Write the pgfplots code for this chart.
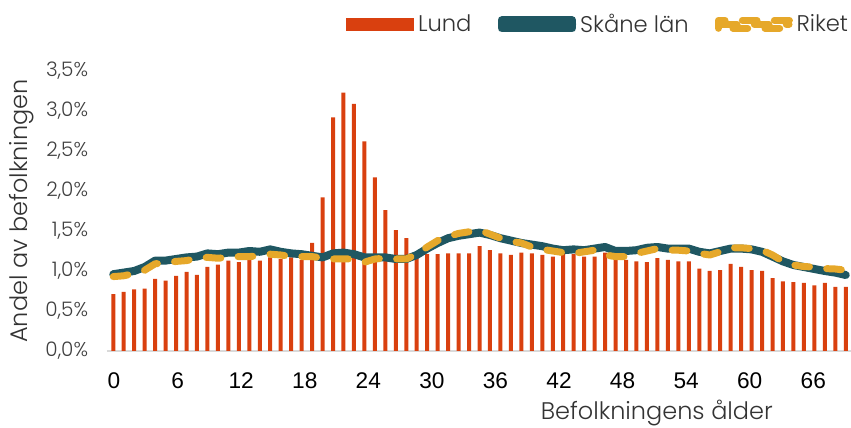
\documentclass[border=0pt]{standalone}
\usepackage{pgfplots}
\pgfplotsset{compat=1.18}
\usepackage{fontspec}
\setmainfont{Liberation Sans}
\newfontfamily\legfont{Poppins Light}
\newfontfamily\tickfont{Liberation Sans}
\definecolor{lundc}{HTML}{D9400F}
\definecolor{skc}{HTML}{1F5762}
\definecolor{rkc}{HTML}{E6A82A}
\definecolor{txtc}{HTML}{333333}
\definecolor{ytc}{HTML}{404040}
\definecolor{axc}{HTML}{D9D9D9}
\pgfplotsset{
  lineleg/.style={legend image code/.code={\useasboundingbox (-3pt,-3pt) rectangle (50pt,3pt);\draw[##1] (0pt,0pt) -- (50pt,0pt);}},
  barleg/.style={legend image code/.code={\fill[lundc] (0pt,-4.9pt) rectangle (51pt,4.9pt);}},
}
\begin{document}
\begin{tikzpicture}
\path[use as bounding box] (0pt,0pt) rectangle (638.25pt,321pt);
\begin{axis}[
  at={(80.25pt,57.75pt)}, anchor=south west,
  scale only axis, width=558pt, height=210pt,
  xmin=-0.6, xmax=70.5, ymin=0, ymax=3.5,
  clip=false,
  axis x line*=bottom, axis y line*=left,
  x axis line style={draw=axc, line width=1.5pt, -},
  y axis line style={draw=none},
  major tick length=0pt,
  xtick={0.07,6.15,12.22,18.30,24.37,30.45,36.52,42.60,48.67,54.75,60.82,66.9},
  xticklabels={0,6,12,18,24,30,36,42,48,54,60,66},
  xticklabel style={font=\tickfont\fontsize{17}{17}\selectfont, text=black, anchor=north, inner sep=0pt, yshift=-16pt},
  ytick={0,0.5,1,1.5,2,2.5,3,3.5},
  yticklabels={0{,}0\%,0{,}5\%,1{,}0\%,1{,}5\%,2{,}0\%,2{,}5\%,3{,}0\%,3{,}5\%},
  yticklabel style={font=\legfont\fontsize{15}{15}\selectfont, text=ytc, anchor=east, inner sep=0pt, xshift=-14pt},
  ylabel={Andel av befolkningen},
  ylabel style={font=\legfont\fontsize{18}{18}\selectfont, text=txtc, at={(rel axis cs:0,0.5)}, anchor=center, rotate=0, yshift=63.75pt},
  xlabel={Befolkningens ålder},
  xlabel style={font=\legfont\fontsize{18}{18}\selectfont, text=txtc, at={(rel axis cs:0.739,0)}, anchor=center, yshift=-46.5pt},
  legend columns=3,
  legend style={at={(1,1)}, anchor=east, xshift=1pt, yshift=35pt, draw=none, fill=none, inner sep=0pt,
    font=\legfont\fontsize{17}{17}\selectfont, text=txtc,
    nodes={inner sep=3pt},
    /tikz/every even column/.append style={column sep=16.5pt}},
]
\addplot[ybar, bar width=3pt, fill=lundc, draw=none, barleg]
coordinates {
(0,0.71)(1,0.74)(2,0.77)(3,0.78)(4,0.90)(5,0.88)(6,0.94)(7,0.99)(8,0.95)(9,1.05)
(10,1.08)(11,1.13)(12,1.11)(13,1.14)(14,1.13)(15,1.17)(16,1.15)(17,1.17)(18,1.14)(19,1.35)
(20,1.92)(21,2.92)(22,3.23)(23,3.09)(24,2.62)(25,2.17)(26,1.76)(27,1.51)(28,1.41)(29,1.17)
(30,1.21)(31,1.21)(32,1.22)(33,1.22)(34,1.22)(35,1.31)(36,1.26)(37,1.22)(38,1.20)(39,1.23)
(40,1.22)(41,1.20)(42,1.18)(43,1.22)(44,1.21)(45,1.18)(46,1.18)(47,1.23)(48,1.14)(49,1.14)
(50,1.12)(51,1.11)(52,1.16)(53,1.14)(54,1.12)(55,1.12)(56,1.03)(57,1.00)(58,1.01)(59,1.09)
(60,1.05)(61,1.01)(62,1.00)(63,0.91)(64,0.87)(65,0.86)(66,0.85)(67,0.82)(68,0.85)(69,0.80)
(70,0.80)};
\addlegendentry{Lund}
\addplot[skc, line width=6pt, line join=round, line cap=round, lineleg]
coordinates {
(0,0.96)(1,0.98)(2,1.00)(3,1.05)(4,1.13)(5,1.13)(6,1.15)(7,1.17)(8,1.18)(9,1.22)
(10,1.21)(11,1.23)(12,1.23)(13,1.25)(14,1.24)(15,1.27)(16,1.24)(17,1.22)(18,1.21)(19,1.19)
(20,1.17)(21,1.22)(22,1.23)(23,1.21)(24,1.17)(25,1.17)(26,1.17)(27,1.15)(28,1.15)(29,1.20)
(30,1.28)(31,1.35)(32,1.41)(33,1.44)(34,1.46)(35,1.48)(36,1.45)(37,1.41)(38,1.38)(39,1.35)
(40,1.33)(41,1.31)(42,1.28)(43,1.26)(44,1.27)(45,1.26)(46,1.28)(47,1.30)(48,1.25)(49,1.25)
(50,1.26)(51,1.29)(52,1.30)(53,1.28)(54,1.28)(55,1.28)(56,1.24)(57,1.22)(58,1.25)(59,1.28)
(60,1.28)(61,1.27)(62,1.24)(63,1.18)(64,1.12)(65,1.075)(66,1.05)(67,1.025)(68,1.00)(69,0.98)
(70,0.95)};
\addlegendentry{Skåne län}
\addplot[rkc, line width=5.25pt, line join=round, line cap=round, dash pattern=on 11pt off 13pt, lineleg]
coordinates {
(0,0.93)(1,0.94)(2,0.97)(3,1.01)(4,1.09)(5,1.10)(6,1.12)(7,1.13)(8,1.16)(9,1.17)
(10,1.16)(11,1.17)(12,1.18)(13,1.18)(14,1.19)(15,1.21)(16,1.20)(17,1.18)(18,1.18)(19,1.18)
(20,1.16)(21,1.15)(22,1.15)(23,1.15)(24,1.11)(25,1.15)(26,1.16)(27,1.15)(28,1.15)(29,1.21)
(30,1.30)(31,1.38)(32,1.43)(33,1.47)(34,1.49)(35,1.51)(36,1.46)(37,1.41)(38,1.37)(39,1.35)
(40,1.30)(41,1.27)(42,1.25)(43,1.23)(44,1.22)(45,1.24)(46,1.26)(47,1.20)(48,1.18)(49,1.18)
(50,1.22)(51,1.25)(52,1.28)(53,1.26)(54,1.26)(55,1.25)(56,1.22)(57,1.20)(58,1.24)(59,1.29)
(60,1.29)(61,1.28)(62,1.26)(63,1.20)(64,1.12)(65,1.075)(66,1.055)(67,1.05)(68,1.03)(69,1.025)
(70,1.01)};
\addlegendentry{Riket}
\end{axis}
\end{tikzpicture}
\end{document}
